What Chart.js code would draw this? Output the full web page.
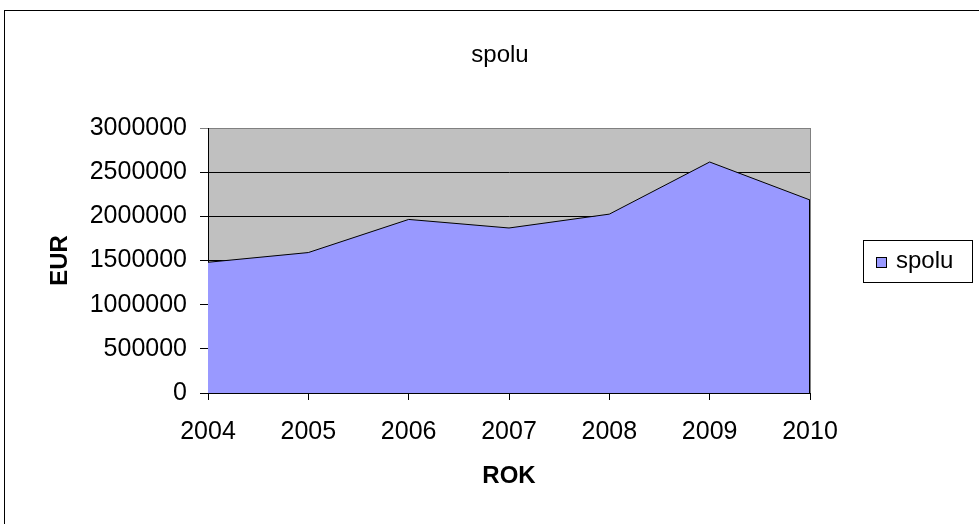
<!DOCTYPE html>
<html>
<head>
<meta charset="utf-8">
<title>spolu</title>
<script src="https://cdn.jsdelivr.net/npm/chart.js@4.4.1/dist/chart.umd.min.js"></script>
<style>
  html, body { margin: 0; padding: 0; background: #ffffff; }
  #chart { display: block; }
</style>
</head>
<body>
<canvas id="chart" width="979" height="524"></canvas>
<script>
// data
const years = ['2004', '2005', '2006', '2007', '2008', '2009', '2010'];
const spolu = [1480000, 1590000, 1965000, 1868000, 2025000, 2615000, 2185000];
const yTicks = [0, 500000, 1000000, 1500000, 2000000, 2500000, 3000000];
const chartTitle = 'spolu';

const FONT = "'Liberation Sans', Arial, sans-serif";
const AREA_COLOR = '#9999FF';
const PLOT_BG = '#C0C0C0';

// Excel-like frame, grey plot area, title and the boxed legend
const excelLook = {
  id: 'excelLook',
  beforeDraw(chart) {
    const { ctx, chartArea: a } = chart;
    ctx.save();
    ctx.fillStyle = '#ffffff';
    ctx.fillRect(0, 0, chart.width, chart.height);
    ctx.strokeStyle = '#000000';
    ctx.lineWidth = 1;
    ctx.strokeRect(4.5, 10.5, chart.width + 20, chart.height + 20);
    ctx.fillStyle = PLOT_BG;
    ctx.fillRect(a.left, a.top, a.right - a.left, a.bottom - a.top);
    ctx.strokeStyle = '#808080';
    ctx.strokeRect(a.left + 0.5, a.top + 0.5, a.right - a.left, a.bottom - a.top);
    // chart title (Excel centres it a bit left of the plot)
    ctx.fillStyle = '#000000';
    ctx.font = '24px ' + FONT;
    ctx.textAlign = 'center';
    ctx.textBaseline = 'alphabetic';
    ctx.fillText(chartTitle, 500, 62);
    ctx.restore();
  },
  afterDatasetsDraw(chart) {
    // outline on the right edge of the area, like Excel does
    const { ctx, chartArea: a } = chart;
    const pts = chart.getDatasetMeta(0).data;
    const last = pts[pts.length - 1];
    ctx.save();
    ctx.strokeStyle = '#000000';
    ctx.lineWidth = 1;
    ctx.beginPath();
    ctx.moveTo(Math.round(last.x) - 0.5, last.y);
    ctx.lineTo(Math.round(last.x) - 0.5, a.bottom);
    ctx.stroke();
    ctx.restore();
  },
  afterDraw(chart) {
    const { ctx } = chart;
    ctx.save();
    // legend frame
    ctx.strokeStyle = '#000000';
    ctx.lineWidth = 1;
    ctx.strokeRect(863.5, 240.5, 109, 42);
    // swatch
    ctx.fillStyle = AREA_COLOR;
    ctx.fillRect(876.5, 257.5, 10, 10);
    ctx.strokeRect(876.5, 257.5, 10, 10);
    // label
    ctx.fillStyle = '#000000';
    ctx.font = '24px ' + FONT;
    ctx.textBaseline = 'alphabetic';
    ctx.textAlign = 'left';
    ctx.fillText(chart.data.datasets[0].label, 896, 268);
    ctx.restore();
  }
};

new Chart(document.getElementById('chart'), {
  type: 'line',
  data: {
    labels: years,
    datasets: [{
      label: 'spolu',
      data: spolu,
      fill: 'origin',
      backgroundColor: AREA_COLOR,
      borderColor: '#000000',
      borderWidth: 1,
      pointRadius: 0,
      tension: 0
    }]
  },
  options: {
    responsive: false,
    animation: false,
    devicePixelRatio: 1,
    layout: { padding: { left: 0, right: 169, top: 128, bottom: 0 } },
    plugins: {
      legend: { display: false },
      tooltip: { enabled: false },
      title: { display: false }
    },
    scales: {
      x: {
        type: 'category',
        offset: false,
        afterFit: (s) => { s.height = 131; },
        grid: {
          offset: false,
          drawOnChartArea: false,
          drawTicks: true,
          tickLength: 7,
          color: '#000000'
        },
        border: { display: true, color: '#000000', width: 1 },
        ticks: {
          color: '#000000',
          padding: 17,
          maxRotation: 0,
          autoSkip: false,
          font: { family: FONT, size: 25 }
        },
        title: {
          display: true,
          text: 'ROK',
          color: '#000000',
          font: { family: FONT, size: 24, weight: 'bold', lineHeight: 1.2 },
          padding: { top: 0, bottom: 33 }
        }
      },
      y: {
        min: 0,
        max: 3000000,
        afterFit: (s) => { s.width = 208; },
        afterBuildTicks: (s) => { s.ticks = yTicks.map(v => ({ value: v })); },
        grid: {
          drawTicks: true,
          tickLength: 8,
          color: (c) => (c.tick && c.tick.value === 3000000 ? '#808080' : '#000000'),
          lineWidth: 1
        },
        border: { display: true, color: '#000000', width: 1 },
        ticks: {
          color: '#000000',
          padding: 13,
          font: { family: FONT, size: 25 },
          callback: (v) => String(v)
        },
        title: {
          display: true,
          text: 'EUR',
          color: '#000000',
          font: { family: FONT, size: 24, weight: 'bold', lineHeight: 1.2 },
          padding: { top: 46, bottom: 0 }
        }
      }
    }
  },
  plugins: [excelLook]
});
</script>
</body>
</html>
